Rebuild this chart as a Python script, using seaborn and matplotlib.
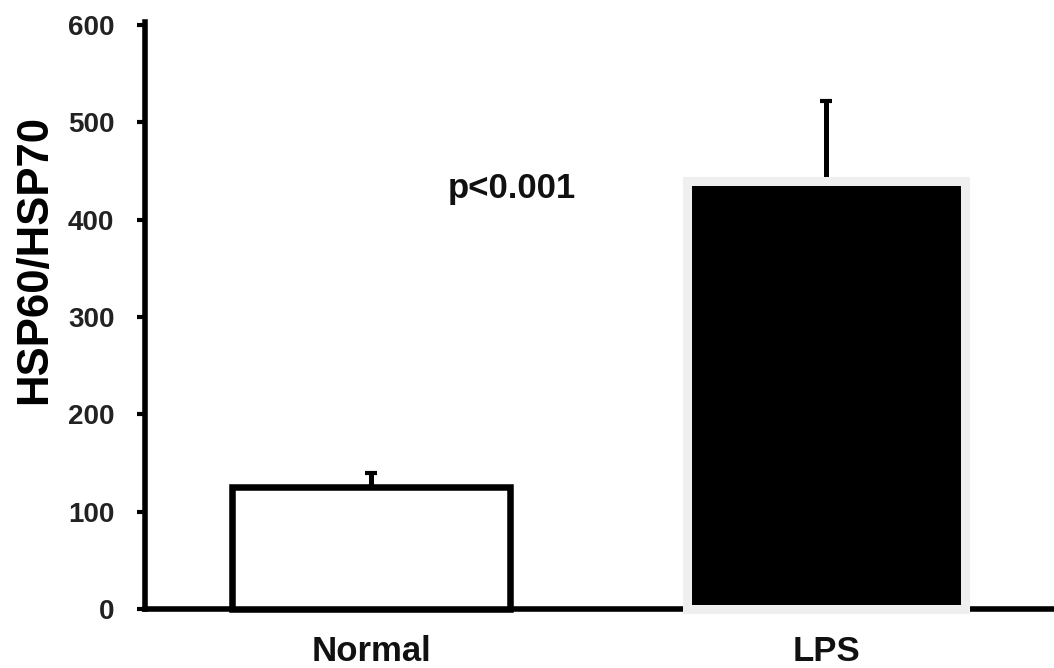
import matplotlib
matplotlib.use("Agg")
import matplotlib.pyplot as plt
import seaborn as sns
import numpy as np

categories = ["Normal", "LPS"]
values = [125, 440]
errors = [15, 82]
ytick_vals = [0, 100, 200, 300, 400, 500, 600]
annotation = "p<0.001"

sns.set_style("white")
plt.rcParams['font.family'] = ['Liberation Sans', 'DejaVu Sans']
plt.rcParams['font.weight'] = 'bold'

fig = plt.figure(figsize=(10.54, 6.68), dpi=100)
ax = fig.add_axes([0.1376, 0.0883, 0.8624, 0.8787])

sns.barplot(x=categories, y=values, hue=categories, palette=["white", "black"],
            legend=False, width=0.61, ax=ax, zorder=3)

edgecolors = ["black", "#efefef"]
linewidths = [4.7, 6.5]
for patch, ec, lw in zip(ax.patches, edgecolors, linewidths):
    patch.set_edgecolor(ec)
    patch.set_linewidth(lw)
    patch.set_clip_on(False)
    patch.set_zorder(4)

ax.errorbar(np.arange(len(categories)), values,
            yerr=[np.zeros(len(errors)), errors],
            fmt='none', ecolor='black', elinewidth=3.6, capsize=4.5, capthick=3,
            zorder=2)

ax.text(0.31, 432, annotation, ha='center', va='center', fontsize=25,
        fontweight='bold', color='#111111')

ax.set_xlim(-0.497, 1.501)
ax.set_ylim(0, 603)
ax.set_yticks(ytick_vals)
ax.set_yticklabels([str(v) for v in ytick_vals], fontsize=20, fontweight='bold',
                   color='#222222')
ax.set_xticks([0, 1])
ax.set_xticklabels(categories, fontsize=25, fontweight='bold', color='#111111')

ax.set_ylabel("HSP60/HSP70", fontsize=31.5, fontweight='bold', color='black')
ax.yaxis.set_label_coords(-0.099, 0.595)
ax.set_xlabel("")

for side in ['top', 'right']:
    ax.spines[side].set_visible(False)
for side in ['left', 'bottom']:
    ax.spines[side].set_color('black')
    ax.spines[side].set_linewidth(4)
    ax.spines[side].set_capstyle('projecting')

ax.tick_params(axis='y', direction='out', length=6, width=3, color='black', pad=16, left=True)
ax.tick_params(axis='x', length=0, pad=19)
ax.grid(False)

fig.savefig("out.png", dpi=100)
